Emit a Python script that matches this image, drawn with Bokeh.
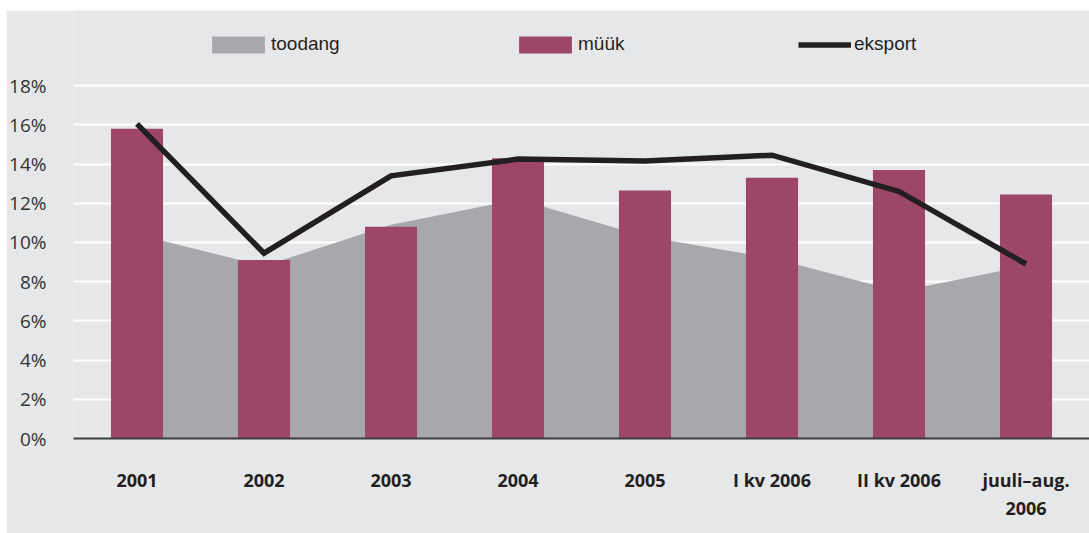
from bokeh.plotting import figure
from bokeh.models import (FactorRange, Range1d, FixedTicker, Legend, LegendItem,
                          ColumnDataSource)
from bokeh.embed import file_html
from bokeh.resources import INLINE

# ---- data ----
categories = ["2001", "2002", "2003", "2004", "2005", "I kv 2006", "II kv 2006", "juuli–aug.\n2006"]
toodang = [10.4, 8.8, 10.9, 12.2, 10.3, 9.2, 7.5, 8.8]
myyk = [15.8, 9.1, 10.8, 14.3, 12.65, 13.3, 13.7, 12.45]
eksport = [16.05, 9.45, 13.4, 14.25, 14.15, 14.45, 12.6, 8.9]
series_names = ["toodang", "müük", "eksport"]
y_ticks = [0, 2, 4, 6, 8, 10, 12, 14, 16, 18]
y_tick_labels = ["0%", "2%", "4%", "6%", "8%", "10%", "12%", "14%", "16%", "18%"]

BG = "#e6e7e9"
GREY = "#a7a8ab"
WINE = "#9e4668"
DARK = "#231f20"

src = ColumnDataSource(dict(cat=categories, toodang=toodang, myyk=myyk, eksport=eksport))

p = figure(x_range=FactorRange(*categories, range_padding=0),
           y_range=Range1d(0, 21.83),
           width=1083, height=523, margin=(10, 0, 0, 6),
           output_backend="svg", toolbar_location=None,
           min_border_left=66, min_border_right=0, min_border_top=0, min_border_bottom=95,
           background_fill_color=BG, border_fill_color=BG, outline_line_color=None)

area = p.varea(x="cat", y1=0, y2="toodang", source=src, fill_color=GREY)
bars = p.vbar(x="cat", top="myyk", width=0.41, source=src, fill_color=WINE, line_color=None)
line = p.line(x="cat", y="eksport", source=src, line_color=DARK, line_width=5.5, line_join="miter")

p.xgrid.grid_line_color = None
p.ygrid.ticker = FixedTicker(ticks=y_ticks)
p.ygrid.grid_line_color = "white"
p.ygrid.grid_line_width = 2

p.yaxis.ticker = FixedTicker(ticks=y_ticks)
p.yaxis.major_label_overrides = {t: l for t, l in zip(y_ticks, y_tick_labels)}
p.yaxis.axis_line_color = None
p.yaxis.major_tick_line_color = None
p.yaxis.minor_tick_line_color = None
p.yaxis.major_label_text_font = "Open Sans"
p.yaxis.major_label_text_font_size = "19px"
p.yaxis.major_label_text_color = "#333333"
p.yaxis.major_label_standoff = 21

p.xaxis.axis_line_color = "#3c3c3c"
p.xaxis.axis_line_width = 2
p.xaxis.major_tick_line_color = None
p.xaxis.minor_tick_line_color = None
p.xaxis.major_label_text_font = "Open Sans"
p.xaxis.major_label_text_font_style = "bold"
p.xaxis.major_label_text_font_size = "18px"
p.xaxis.major_label_text_color = DARK
p.xaxis.major_label_standoff = 23

legend_cfg = [
    (area, series_names[0], 132, 66, 21, -5),
    (bars, series_names[1], 439, 66, 21, -5),
    (line, series_names[2], 725, 53, 21, 3),
]
for r, name, xloc, gw, gh, so in legend_cfg:
    lg = Legend(items=[LegendItem(label=name, renderers=[r])], location=(xloc, 383),
                padding=0, margin=0, glyph_width=gw, glyph_height=gh, label_height=17,
                label_standoff=so, label_text_font="Liberation Sans",
                label_text_font_size="19px", label_text_color=DARK,
                border_line_color=None, background_fill_alpha=0)
    p.add_layout(lg)

open("out.html", "w").write(file_html(p, INLINE))
